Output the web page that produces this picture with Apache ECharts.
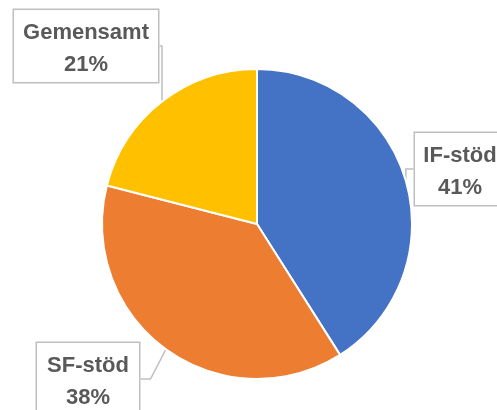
<!DOCTYPE html>
<html>
<head>
<meta charset="utf-8">
<script src="https://cdn.jsdelivr.net/npm/echarts@6/dist/echarts.min.js"></script>
<style>
  html, body { margin: 0; padding: 0; background: #fff; }
  #pie { width: 497px; height: 410px; }
</style>
</head>
<body>
<div id="pie"></div>
<script>
var names = ['IF-stöd', 'SF-stöd', 'Gemensamt'];
var shares = [41, 38, 21];
var colors = ['#4472C4', '#ED7D31', '#FFC000'];

// callout box centre-x, top and text width
var boxPos = [[460, 133], [88, 343], [86, 10]];
var boxWidth = [74, 86, 128];

var chart = echarts.init(document.getElementById('pie'));
chart.setOption({
    backgroundColor: '#fff',
    series: [{
        type: 'pie',
        center: [257, 224],
        radius: [0, 155],
        startAngle: 90,
        clockwise: true,
        animation: false,
        itemStyle: { borderColor: '#fff', borderWidth: 2 },
        label: {
            show: true,
            formatter: '{b}\n{c}%',
            fontFamily: 'Liberation Sans',
            fontWeight: 'bold',
            fontSize: 22,
            lineHeight: 32,
            color: '#595959',
            backgroundColor: '#fff',
            borderColor: '#BFBFBF',
            borderWidth: 1.5,
            padding: [7, 8, 1, 8],
            overflow: 'none',
            align: 'center'
        },
        labelLine: {
            show: true,
            length: 10,
            length2: 10,
            lineStyle: { color: '#BFBFBF', width: 1.5 }
        },
        labelLayout: function (p) {
            var b = boxPos[p.dataIndex];
            return {
                x: b[0],
                y: b[1],
                align: 'center',
                verticalAlign: 'top',
                hideOverlap: false
            };
        },
        data: names.map(function (n, i) {
            return {
                name: n,
                value: shares[i],
                itemStyle: { color: colors[i] },
                label: { width: boxWidth[i] }
            };
        })
    }]
});
</script>
</body>
</html>
